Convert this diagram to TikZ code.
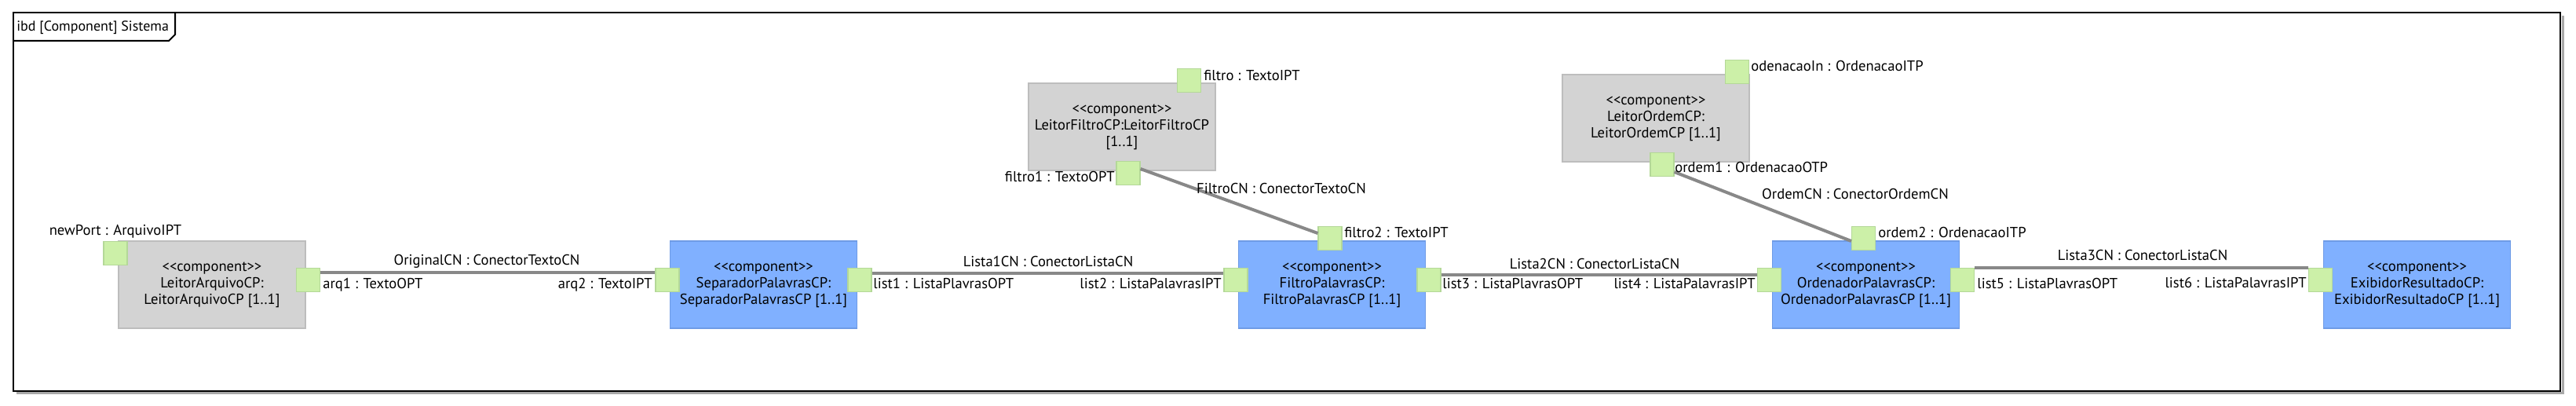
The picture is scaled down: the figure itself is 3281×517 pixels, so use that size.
\documentclass[tikz,border=0pt]{standalone}
\usepackage{fontspec}
\setmainfont{PT Sans}[Ligatures=TeXOff]
\usetikzlibrary{calc}
\definecolor{portfill}{HTML}{CCF0A8}
\definecolor{portdraw}{HTML}{B4D898}
\definecolor{grayfill}{HTML}{D3D3D3}
\definecolor{graydraw}{HTML}{BDBDBD}
\definecolor{bluefill}{HTML}{80B0FF}
\definecolor{bluedraw}{HTML}{6E9BE6}
\definecolor{conncol}{HTML}{888888}
\definecolor{shadowcol}{HTML}{A8A8A8}
\begin{document}
\begin{tikzpicture}[x=0.5pt,y=-0.5pt,
  font=\fontsize{9.3}{10.5}\selectfont,
  comp/.style={minimum width=119pt,minimum height=55.5pt,align=center,inner sep=0pt,line width=0.6pt},
  graycomp/.style={comp,draw=graydraw,fill=grayfill},
  bluecomp/.style={comp,draw=bluedraw,fill=bluefill},
  port/.style={draw=portdraw,fill=portfill,minimum size=15pt,inner sep=0pt,line width=0.6pt},
  plabel/.style={inner sep=0pt},
  conn/.style={draw=conncol,line width=2pt}]
\useasboundingbox (0,0) rectangle (3281,517);
% frame
\draw[shadowcol,line width=1.5pt] (3264,20) -- (3264,501) -- (21,501);
\draw[black,line width=1pt] (17,16) rectangle (3261,498);
\draw[black,line width=1pt] (17,52) -- (215,52) -- (223,44) -- (223,16);
\node[plabel,anchor=mid west,font=\fontsize{9}{11}\selectfont] (title) at (21,35) {ibd [Component] Sistema};
% components
\node[graycomp] (la) at (270,362.5) {<<component>>\\LeitorArquivoCP:\\LeitorArquivoCP [1..1]};
\node[bluecomp] (sp) at (972.5,362.5) {<<component>>\\SeparadorPalavrasCP:\\SeparadorPalavrasCP [1..1]};
\node[bluecomp] (fp) at (1696.5,362.5) {<<component>>\\FiltroPalavrasCP:\\FiltroPalavrasCP [1..1]};
\node[bluecomp] (op) at (2376.5,362.5) {<<component>>\\OrdenadorPalavrasCP:\\OrdenadorPalavrasCP [1..1]};
\node[bluecomp] (er) at (3078.5,362.5) {<<component>>\\ExibidorResultadoCP:\\ExibidorResultadoCP [1..1]};
\node[graycomp] (lf) at (1429,161.5) {<<component>>\\LeitorFiltroCP:LeitorFiltroCP\\{}[1..1]};
\node[graycomp] (lo) at (2109,150.5) {<<component>>\\LeitorOrdemCP:\\LeitorOrdemCP [1..1]};
% ports
\node[port] (newPort) at (147,322.5) {};
\node[port] (arq1) at (392.5,356.5) {};
\node[port] (arq2) at (850,356.5) {};
\node[port] (list1) at (1095,356.5) {};
\node[port] (list2) at (1574,356.5) {};
\node[port] (filtro2) at (1694,303.5) {};
\node[port] (list3) at (1820,356.5) {};
\node[port] (list4) at (2253.5,356.5) {};
\node[port] (ordem2) at (2373.5,303.5) {};
\node[port] (list5) at (2499.5,356.5) {};
\node[port] (list6) at (2955.5,356.5) {};
\node[port] (filtro) at (1514.5,102.5) {};
\node[port] (filtro1) at (1437,220.5) {};
\node[port] (ordIn) at (2212.5,91.5) {};
\node[port] (ordem1) at (2117,209.5) {};
% connectors
\draw[conn] ($(arq1.east)+(0,-9.5)$) -- ($(arq2.west)+(0,-9.5)$);
\draw[conn] ($(list1.east)+(0,-8.5)$) -- ($(list2.west)+(0,-8.5)$);
\draw[conn] ($(list3.east)+(0,-6.5)$) -- ($(list4.west)+(0,-6.5)$);
\draw[conn] ($(list5.east)+(0,-15)$) -- ($(list6.west)+(0,-15)$);
\draw[conn] ($(filtro1.east)+(0,-5.5)$) -- ($(filtro2.west)+(0,-6.5)$);
\draw[conn] ($(ordem1.east)+(0,9.5)$) -- ($(ordem2.west)+(0,3.5)$);
% connector labels
\node[plabel] (lOrig) at (620,333) {OriginalCN : ConectorTextoCN};
\node[plabel] (lL1) at (1335,333) {Lista1CN : ConectorListaCN};
\node[plabel] (lL2) at (2031,336) {Lista2CN : ConectorListaCN};
\node[plabel] (lL3) at (2729,325) {Lista3CN : ConectorListaCN};
\node[plabel] (lFil) at (1632,240) {FiltroCN : ConectorTextoCN};
\node[plabel] (lOrd) at (2363,247) {OrdemCN : ConectorOrdemCN};
% port labels
\node[plabel] (tNew) at (147,295) {newPort : ArquivoIPT};
\node[plabel,anchor=mid west] (tArq1) at (411,363) {arq1 : TextoOPT};
\node[plabel,anchor=mid east] (tArq2) at (831,363) {arq2 : TextoIPT};
\node[plabel,anchor=mid west] (tL1) at (1112,363) {list1 : ListaPlavrasOPT};
\node[plabel,anchor=mid east] (tL2) at (1556,363) {list2 : ListaPalavrasIPT};
\node[plabel,anchor=mid west] (tF2) at (1712,298) {filtro2 : TextoIPT};
\node[plabel,anchor=mid west] (tL3) at (1837,363) {list3 : ListaPlavrasOPT};
\node[plabel,anchor=mid east] (tL4) at (2236,363) {list4 : ListaPalavrasIPT};
\node[plabel,anchor=mid west] (tO2) at (2392,298) {ordem2 : OrdenacaoITP};
\node[plabel,anchor=mid west] (tL5) at (2518,363) {list5 : ListaPlavrasOPT};
\node[plabel,anchor=mid east] (tL6) at (2938,362) {list6 : ListaPalavrasIPT};
\node[plabel,anchor=mid west] (tF) at (1533,98) {filtro : TextoIPT};
\node[plabel,anchor=mid east] (tF1) at (1420,227) {filtro1 : TextoOPT};
\node[plabel,anchor=mid west] (tOi) at (2230,86) {odenacaoIn : OrdenacaoITP};
\node[plabel,anchor=mid west] (tO1) at (2133,215) {ordem1 : OrdenacaoOTP};
\end{tikzpicture}
\end{document}
